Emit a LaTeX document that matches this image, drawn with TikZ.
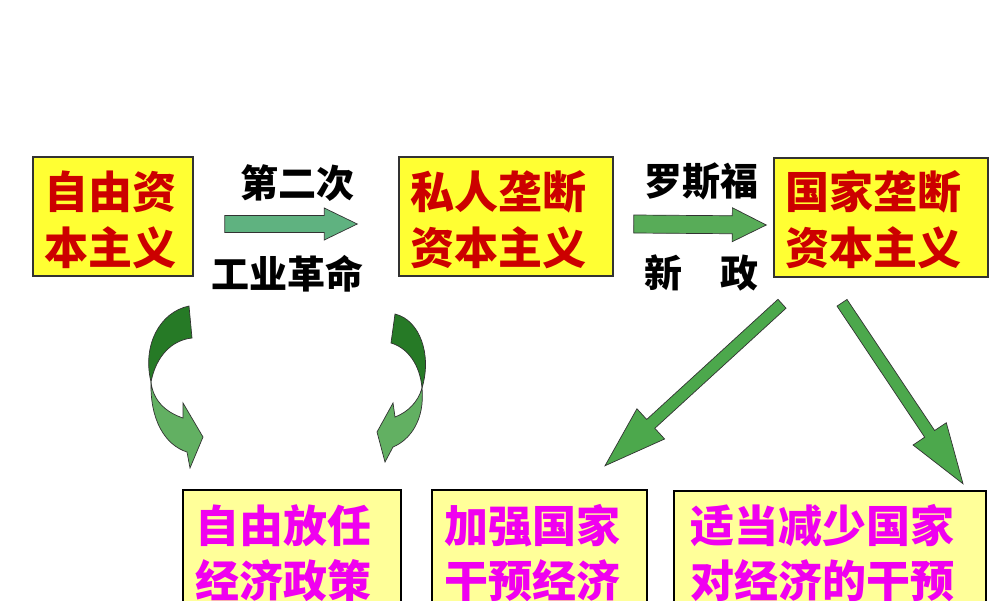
\documentclass[tikz,border=0pt]{standalone}
\usepackage{fontspec}
\newfontfamily\cjk{Noto Sans CJK SC}
\usetikzlibrary{calc}
\definecolor{boxyellow}{RGB}{255,255,51}
\definecolor{paleyellow}{RGB}{255,255,153}
\definecolor{boxred}{RGB}{204,0,0}
\definecolor{boxmag}{RGB}{240,0,240}
\definecolor{arrteal}{RGB}{95,178,128}
\definecolor{arrgreen}{RGB}{88,172,88}
\definecolor{diaggreen}{RGB}{76,168,76}
\definecolor{cdarkg}{RGB}{38,122,38}
\definecolor{clightg}{RGB}{98,176,98}
\definecolor{edgegray}{RGB}{50,50,50}
\newcommand\blockarrow[6]{%
  \pgfpointdiff{\pgfpointanchor{#2}{center}}{\pgfpointanchor{#3}{center}}%
  \pgfgetlastxy{\bax}{\bay}%
  \pgfmathsetmacro\baang{atan2(\bay,\bax)}%
  \pgfmathsetmacro\balen{veclen(\bax,\bay)}%
  \begin{scope}[shift={(#2)},rotate=\baang]
    \filldraw[#1] (0,-#4) -- (\balen-#6,-#4) -- (\balen-#6,-#5) -- (\balen,0)
      -- (\balen-#6,#5) -- (\balen-#6,#4) -- (0,#4) -- cycle;
  \end{scope}}
\begin{document}
\begin{tikzpicture}[x=1pt,y=-1pt,
  topbox/.style={draw=edgegray,line width=1.5pt,fill=boxyellow,inner sep=0pt},
  lowbox/.style={draw=black,line width=2.5pt,fill=paleyellow,inner sep=0pt},
  toptext/.style={text=boxred,align=center,inner sep=0pt,font=\cjk\bfseries\fontsize{44}{56}\selectfont},
  lowtext/.style={text=boxmag,align=center,inner sep=0pt,font=\cjk\bfseries\fontsize{44}{55}\selectfont},
  lbl/.style={text=black,inner sep=0pt,font=\cjk\bfseries\fontsize{38}{44}\selectfont},
  arrowline/.style={draw=edgegray,line width=0.7pt}]
\useasboundingbox (0,0) rectangle (1000,600);
\clip (0,0) rectangle (1000,600);
\fill[white] (0,0) rectangle (1000,600);

% top boxes
\node[topbox,minimum width=160pt,minimum height=119pt] (b1) at (113,216.5) {};
\node[topbox,minimum width=214pt,minimum height=119pt] (b2) at (506,216.5) {};
\node[topbox,minimum width=214pt,minimum height=119pt] (b3) at (881,217.5) {};
\node[toptext] (t1) at (110,220) {自由资\\本主义};
\node[toptext] (t2) at (498,220) {私人垄断\\资本主义};
\node[toptext] (t3) at (873,220) {国家垄断\\资本主义};

% bottom boxes
\node[lowbox,minimum width=218pt,minimum height=125pt] (b4) at (292,552.5) {};
\node[lowbox,minimum width=215pt,minimum height=125pt] (b5) at (539.5,552.5) {};
\node[lowbox,minimum width=312pt,minimum height=125pt] (b6) at (830,553.5) {};
\node[lowtext] (t4) at (283,553) {自由放任\\经济政策};
\node[lowtext] (t5) at (532,553) {加强国家\\干预经济};
\node[lowtext] (t6) at (822,553) {适当减少国家\\对经济的干预};

% labels
\node[lbl] (l1) at (297,183) {第二次};
\node[lbl] (l2) at (287,274) {工业革命};
\node[lbl] (l3) at (701,181) {罗斯福};
\node[lbl] (l4) at (701,273) {新　政};

% horizontal arrows
\coordinate (a1s) at ($(b1.east)+(31,7.5)$);
\coordinate (a1e) at ($(b2.west)+(-41,7.5)$);
\blockarrow{fill=arrteal,arrowline}{a1s}{a1e}{8.5}{16}{33}
\coordinate (a2s) at ($(b2.east)+(20,7.5)$);
\coordinate (a2e) at ($(b3.west)+(-7,7.5)$);
\blockarrow{fill=arrgreen,arrowline}{a2s}{a2e}{9}{17}{34}

% diagonal arrows
\coordinate (d1s) at ($(b3.south)+(-99,26)$);
\coordinate (d1e) at ($(b5.north)+(65.5,-23)$);
\blockarrow{fill=diaggreen,arrowline}{d1s}{d1e}{6}{20.5}{62}
\coordinate (d2s) at ($(b3.south)+(-39,25)$);
\coordinate (d2e) at ($(b6.north)+(133,-6)$);
\blockarrow{fill=diaggreen,arrowline}{d2s}{d2e}{6}{20}{60}

% curved arrows (left)
\filldraw[fill=cdarkg,arrowline] (189,306) .. controls (160,312) and (142,345) .. (151,382)
  .. controls (156,356) and (172,340) .. (192,338) -- cycle;
\filldraw[fill=clightg,arrowline] (151,382) .. controls (150,420) and (165,445) .. (187,452)
  -- (190,468) -- (203,437) -- (183,403) -- (183,418)
  .. controls (165,412) and (153,400) .. (151,382) -- cycle;
% curved arrows (right)
\filldraw[fill=cdarkg,arrowline] (395,314) .. controls (420,320) and (432,355) .. (422,388)
  .. controls (420,365) and (408,348) .. (391,343) -- cycle;
\filldraw[fill=clightg,arrowline] (422,388) .. controls (425,420) and (410,440) .. (393,447)
  -- (385,462) -- (377,432) -- (393,403) -- (395,417)
  .. controls (408,412) and (418,402) .. (422,388) -- cycle;
\end{tikzpicture}
\end{document}
